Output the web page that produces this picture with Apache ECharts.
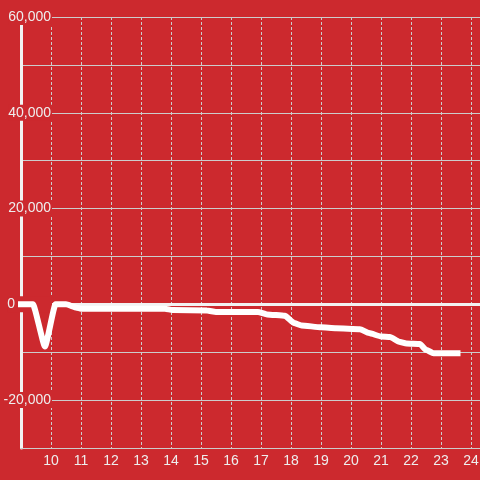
<!DOCTYPE html>
<html>
<head>
<meta charset="utf-8">
<script src="https://cdn.jsdelivr.net/npm/echarts@6/dist/echarts.min.js"></script>
<style>
html, body { margin: 0; padding: 0; background: #cc292e; }
#main { width: 480px; height: 480px; }
</style>
</head>
<body>
<div id="main"></div>
<script>
// 数据：横轴为小时，纵轴为数值
var hours = [8.87, 9.4, 9.8, 10.15, 10.5, 10.85, 11.0, 13.8, 14.05, 15.2, 15.5, 16.9, 17.2, 17.8, 18.1, 18.35, 19.0, 19.5, 20.3, 20.6, 21.0, 21.3, 21.6, 21.85, 22.3, 22.5, 22.75, 23.65];
var values = [0, 0, -8800, 0, 0, -700, -900, -900, -1200, -1300, -1600, -1600, -2100, -2400, -3900, -4400, -4800, -5000, -5200, -6000, -6700, -6800, -7800, -8200, -8300, -9500, -10200, -10200];
var yShown = [60000, 40000, 20000, 0, -20000];

var bg = '#cc292e';
var txt = '#eeeeee';

var lineData = [];
for (var i = 0; i < hours.length; i++) {
	lineData.push([hours[i], values[i]]);
}

var myChart = echarts.init(document.getElementById('main'));
var option = {
	backgroundColor: bg,
	animation: false,
	grid: {
		left: 21,
		right: -21,
		top: 17,
		bottom: 32,
		containLabel: false,
		outerBoundsMode: 'none'
	},
	xAxis: [{
		type: 'value',
		min: 9,
		max: 25,
		interval: 1,
		axisLine: { onZero: false, lineStyle: { color: '#cccccc', width: 1 } },
		axisTick: { show: false },
		axisLabel: {
			showMinLabel: false,
			color: txt,
			fontSize: 14,
			fontFamily: 'Liberation Sans',
			margin: 6
		},
		splitLine: {
			show: true,
			lineStyle: { color: '#cccccc', type: [3, 2], width: 1 }
		}
	}, {
		// 零线
		type: 'value',
		position: 'bottom',
		min: 9,
		max: 25,
		axisLine: { onZero: true, lineStyle: { color: '#f2f2f2', width: 3 } },
		axisTick: { show: false },
		axisLabel: { show: false },
		splitLine: { show: false }
	}],
	yAxis: {
		type: 'value',
		min: -30000,
		max: 60000,
		interval: 10000,
		axisLine: { show: true, lineStyle: { color: '#f2f2f2', width: 3 } },
		axisTick: { show: false },
		axisLabel: {
			align: 'right',
			margin: -31,
			color: txt,
			fontSize: 14,
			fontFamily: 'Liberation Sans',
			formatter: function(v) {
				if (yShown.indexOf(v) == -1) return '';
				if (v == 0) return '{z|0}';
				return '{n|' + echarts.format.addCommas(v) + '}';
			},
			rich: {
				n: { backgroundColor: bg, color: txt, fontSize: 14, fontFamily: 'Liberation Sans', padding: [1, 1, 1, 0] },
				z: { backgroundColor: bg, color: txt, fontSize: 14, fontFamily: 'Liberation Sans', padding: [1, 37, 1, 0] }
			}
		},
		splitLine: {
			show: true,
			lineStyle: { color: '#cccccc', width: 1 }
		}
	},
	series: [{
		type: 'line',
		xAxisIndex: 0,
		data: lineData,
		clip: false,
		showSymbol: false,
		smooth: 0.15,
		smoothMonotone: 'x',
		lineStyle: { color: '#ffffff', width: 6 }
	}]
};
myChart.setOption(option);
</script>
</body>
</html>
